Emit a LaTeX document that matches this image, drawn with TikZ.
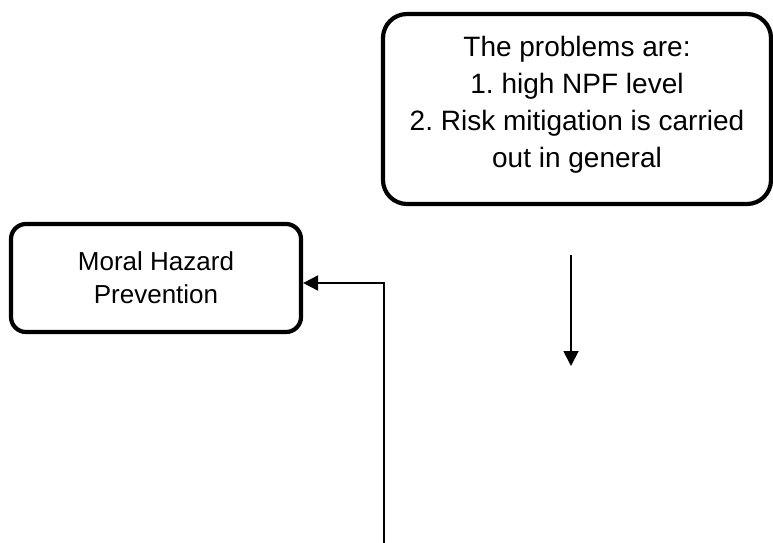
\documentclass[tikz,border=0pt]{standalone}
\usepackage{fontspec}
\setmainfont{Liberation Sans}
\usetikzlibrary{arrows.meta,positioning,calc}

\begin{document}
\frenchspacing
\begin{tikzpicture}[
  x=1pt, y=-1pt, >={Triangle[length=15pt,width=15pt]},
  box/.style={draw, line width=4.2pt, align=center},
  link/.style={->, line width=1.8pt},
]
\clip (0,0) rectangle (773,542);
\fill[white] (0,0) rectangle (773,542);

% problem box (top right)
\node[box, rounded corners=24pt, minimum width=388pt, minimum height=190pt,
      font=\fontsize{28pt}{37pt}\selectfont] (problems) at (577,109)
  {The problems are:\\1. high NPF level\\2. Risk mitigation is carried\\out in general\rule[-14pt]{0pt}{14pt}};

% prevention box (left)
\node[box, rounded corners=15pt, minimum width=290pt, minimum height=108pt,
      font=\fontsize{26pt}{33pt}\selectfont] (moral) at (156,278)
  {Moral Hazard\\Prevention};

% Arrows
\coordinate (downtop) at (571,255);
\coordinate (downtip) at (571,366);
\draw[link] (downtop) -- (downtip);

\coordinate (feed) at (384,545);
\coordinate (turn) at (384,283);
\draw[link] (feed) -- (turn) -- (turn -| moral.east);
\end{tikzpicture}
\end{document}
